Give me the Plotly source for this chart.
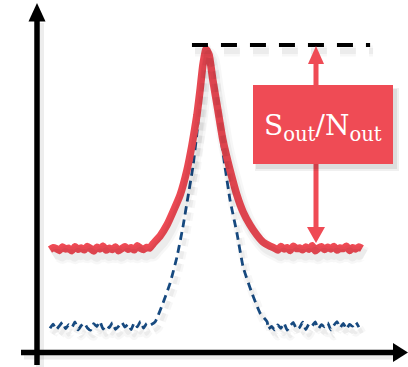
import plotly.graph_objects as go

# ---------------- data (arbitrary units: x = frequency, y = amplitude) ----------------
red_left_x = list(range(0, 33))
red_left_y = [33.6, 34.2, 33.9, 33.3, 34.4, 33.8, 34.0, 33.2, 34.5, 33.7, 34.1, 33.5, 34.6,
              33.9, 33.1, 34.3, 33.8, 34.7, 33.4, 34.0, 33.6, 34.4, 33.2, 33.9, 34.5, 33.7,
              34.2, 33.5, 34.8, 34.0, 33.6, 34.3, 34.1]
red_peak_x = [33.0, 35.3, 37.5, 39.4, 41.7, 43.9, 45.5, 47.1, 48.1, 49.0, 50.0,
              51.0, 52.2, 53.8, 55.4, 57.7, 59.9, 61.9, 64.1, 66.3, 68.3, 70.5]
red_peak_y = [35.4, 38.0, 41.6, 45.8, 51.3, 59.4, 67.5, 77.3, 85.4, 93.5, 98.7,
              96.8, 88.6, 78.9, 69.2, 59.4, 51.3, 45.8, 41.6, 38.3, 36.0, 34.7]
red_right_x = list(range(71, 101))
red_right_y = [34.5, 34.0, 33.4, 34.6, 33.8, 34.2, 33.3, 34.7, 33.9, 34.1, 33.5, 34.4,
               33.7, 34.8, 33.2, 34.0, 34.5, 33.6, 34.3, 33.8, 34.6, 33.4, 34.1, 33.9,
               34.7, 33.3, 34.2, 33.8, 34.4, 33.9]

blue_left_x = list(range(0, 33))
blue_left_y = [8.0, 9.4, 7.6, 8.8, 10.0, 7.9, 9.2, 8.3, 10.1, 7.5, 8.9, 9.7, 8.1, 7.4,
               9.5, 8.6, 10.2, 7.8, 9.0, 8.2, 9.9, 7.7, 8.7, 10.0, 8.4, 9.3, 7.6, 9.8,
               8.5, 10.3, 8.1, 9.6, 9.0]
blue_peak_x = [33.7, 36.2, 38.5, 40.7, 42.6, 44.2, 45.8, 47.1, 48.1, 49.0, 50.0,
               51.9, 52.9, 54.5, 56.1, 57.7, 59.9, 61.9, 64.7, 67.3, 69.6]
blue_peak_y = [10.1, 16.2, 22.7, 31.2, 40.9, 50.6, 60.4, 71.4, 82.1, 92.9, 98.4,
               92.9, 82.1, 71.4, 60.4, 49.7, 39.0, 27.9, 19.5, 13.0, 10.1]
blue_right_x = list(range(70, 100))
blue_right_y = [7.8, 8.6, 7.5, 9.1, 8.0, 9.7, 7.4, 8.9, 9.9, 7.7, 8.3, 10.0, 7.6, 9.4,
                8.8, 10.1, 7.9, 9.2, 8.5, 9.8, 7.5, 9.0, 10.2, 8.2, 9.6, 7.8, 9.3, 8.7,
                10.0, 8.4]

peak_level_x = [45.5, 102.6]
peak_level_y = [100.0, 100.0]

label_text = "S<sub>out</sub>/N<sub>out</sub>"

red_x = red_left_x + red_peak_x + red_right_x
red_y = red_left_y + red_peak_y + red_right_y
blue_x = blue_left_x + blue_peak_x + blue_right_x
blue_y = blue_left_y + blue_peak_y + blue_right_y

# ---------------- layout helpers (pixel -> axis units) ----------------
SX, SY = 3.12, 3.08
def X(px):
    return (px - 50) / SX
def Y(py):
    return (353 - py) / SY

RED = "#EF4B55"
BLUE = "#174a80"
SHADOW_DX, SHADOW_DY = 3, 6

fig = go.Figure()

# soft shadow traces (same data on shifted overlay axes)
for xs, ys, w, dash in [(red_x, red_y, 10, None), (blue_x, blue_y, 4, "8px,5px"),
                        (peak_level_x, peak_level_y, 6, "16px,13px")]:
    for extra, col in [(5, "rgba(0,0,0,0.03)"), (0, "rgba(0,0,0,0.045)")]:
        fig.add_trace(go.Scatter(x=xs, y=ys, mode="lines", xaxis="x2", yaxis="y2",
                                 line=dict(color=col, width=w + extra, dash=dash, shape="spline", smoothing=0.4),
                                 hoverinfo="skip", showlegend=False))

fig.add_trace(go.Scatter(x=blue_x, y=blue_y, mode="lines",
                         line=dict(color=BLUE, width=2.8, dash="8px,5px", shape="spline", smoothing=0.4),
                         showlegend=False))
fig.add_trace(go.Scatter(x=red_x, y=red_y, mode="lines",
                         line=dict(color=RED, width=7.5, shape="spline", smoothing=0.4),
                         showlegend=False))
fig.add_trace(go.Scatter(x=peak_level_x, y=peak_level_y, mode="lines",
                         line=dict(color="black", width=4, dash="16px,13px"),
                         showlegend=False))

shapes = []
def sh(**kw):
    shapes.append(kw)

def tri(p1, p2, p3, color, layer="above"):
    path = "M{},{} L{},{} L{},{} Z".format(X(p1[0]), Y(p1[1]), X(p2[0]), Y(p2[1]), X(p3[0]), Y(p3[1]))
    sh(type="path", path=path, fillcolor=color, line=dict(width=0), layer=layer, xref="x", yref="y")

def seg(x0, y0, x1, y1, color, w, layer="above"):
    sh(type="line", x0=X(x0), y0=Y(y0), x1=X(x1), y1=Y(y1), line=dict(color=color, width=w),
       layer=layer, xref="x", yref="y")

# axes shadows
d = SHADOW_DX
seg(37 + d, 365 + d, 37 + d, 20 + d, "rgba(0,0,0,0.07)", 8, "below")
seg(21 + d, 352.5 + d, 395 + d, 352.5 + d, "rgba(0,0,0,0.07)", 8, "below")
# axes
seg(37, 365, 37, 19, "black", 5.5)
tri((37, 3), (28.5, 21.5), (45.5, 21.5), "black")
seg(21, 352.5, 394, 352.5, "black", 5.5)
tri((408, 352.5), (393, 343), (393, 362), "black")

# red arrow (stem + heads)
seg(316, 62, 316, 229, RED, 5)
tri((316, 46), (308, 64), (324, 64), RED)
tri((316, 243), (307, 227), (325, 227), RED)

# box shadow + box
sh(type="rect", x0=X(253 + 2), x1=X(393 + 6), y0=Y(85 + 3), y1=Y(164 + 7),
   fillcolor="rgba(0,0,0,0.06)", line=dict(width=0), layer="above", xref="x", yref="y")
sh(type="rect", x0=X(253 + 3), x1=X(393 + 4), y0=Y(85 + 4), y1=Y(164 + 5),
   fillcolor="rgba(0,0,0,0.08)", line=dict(width=0), layer="above", xref="x", yref="y")
sh(type="rect", x0=X(253), x1=X(393), y0=Y(85), y1=Y(164),
   fillcolor=RED, line=dict(width=0), layer="above", xref="x", yref="y")

xr = [X(0), X(408)]
yr = [Y(367), Y(0)]
ax = dict(visible=False, showgrid=False, zeroline=False, fixedrange=True)
fig.update_layout(
    width=408, height=367,
    margin=dict(l=0, r=0, t=0, b=0),
    paper_bgcolor="white", plot_bgcolor="white",
    xaxis=dict(range=xr, **ax),
    yaxis=dict(range=yr, **ax),
    xaxis2=dict(range=[xr[0] - SHADOW_DX / SX, xr[1] - SHADOW_DX / SX], overlaying="x", **ax),
    yaxis2=dict(range=[yr[0] + SHADOW_DY / SY, yr[1] + SHADOW_DY / SY], overlaying="y", **ax),
    shapes=shapes,
    annotations=[dict(x=X(323), y=Y(127), xref="x", yref="y", text=label_text, showarrow=False,
                      font=dict(family="DejaVu Serif", size=28, color="white"),
                      xanchor="center", yanchor="middle")],
)

fig.write_html("out.html", config={"displayModeBar": False},
               post_script="document.body.style.margin='0';document.body.style.overflow='hidden';")
